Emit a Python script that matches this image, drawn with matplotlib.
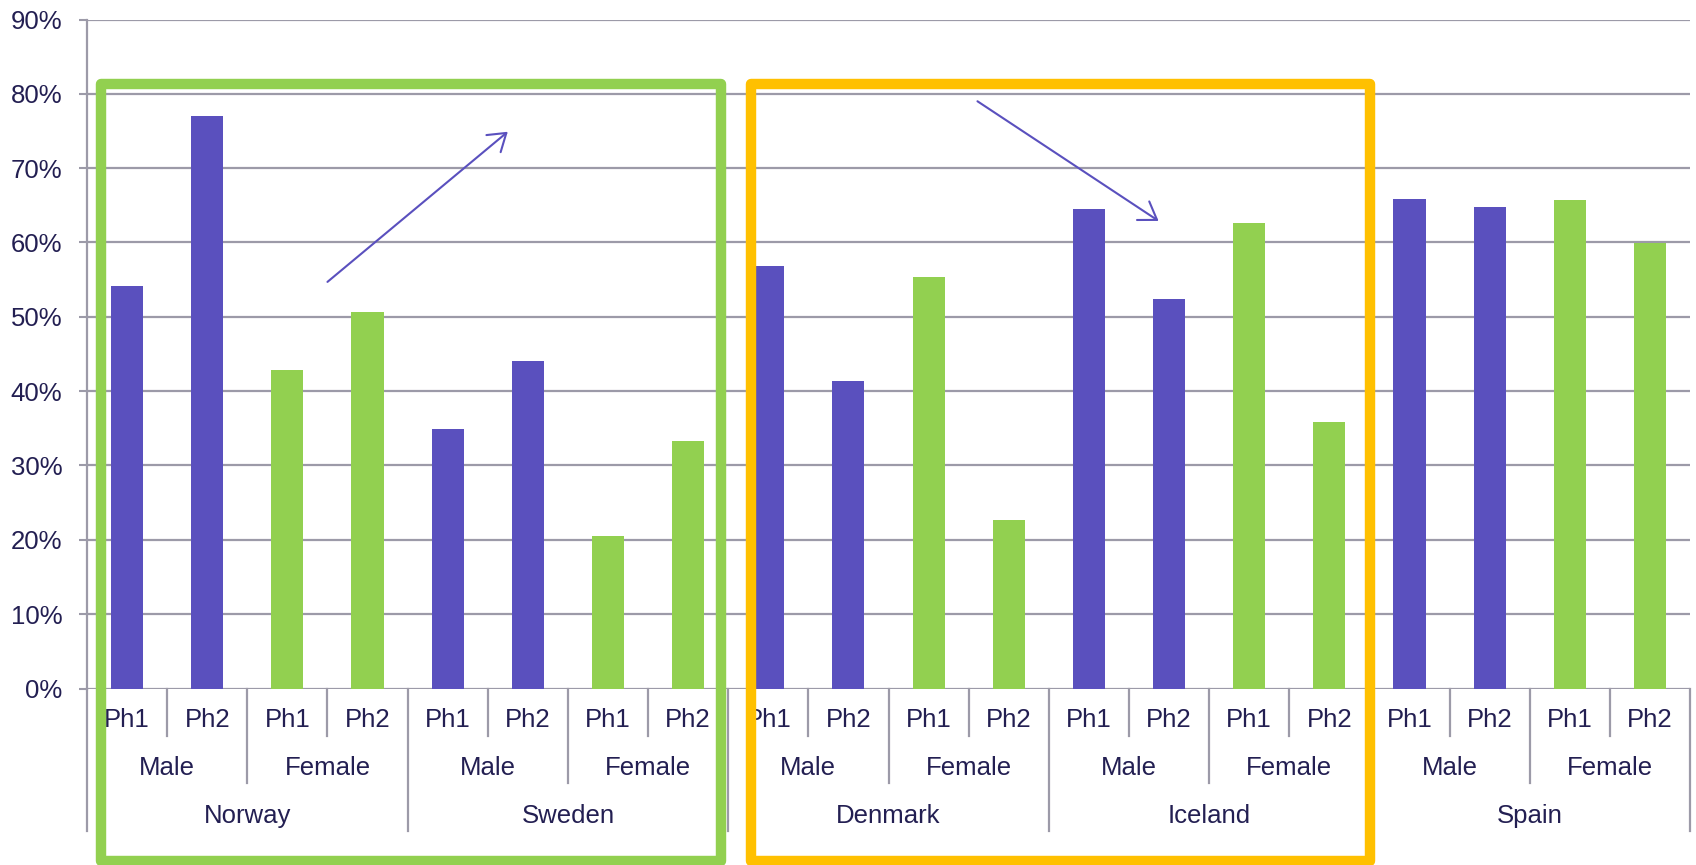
import matplotlib
matplotlib.use('Agg')
import matplotlib.pyplot as plt
import matplotlib.transforms as mtransforms
from matplotlib.patches import Rectangle
import numpy as np

plt.rcParams['font.family'] = ['Liberation Sans', 'DejaVu Sans']

countries = ['Norway', 'Sweden', 'Denmark', 'Iceland', 'Spain']
genders = ['Male', 'Female']
phases = ['Ph1', 'Ph2']

# share per country, gender and phase
male_ph1 = [0.541, 0.349, 0.568, 0.645, 0.659]
male_ph2 = [0.770, 0.441, 0.414, 0.524, 0.648]
female_ph1 = [0.428, 0.205, 0.553, 0.626, 0.657]
female_ph2 = [0.507, 0.333, 0.227, 0.358, 0.599]

BLUE = '#5A50BE'
GREEN = '#92D050'
ORANGE = '#FFC000'
GRID = '#9C9AA8'
TEXT = '#231F52'
FS = 18.5

values = []
colors = []
for c in range(len(countries)):
    values += [male_ph1[c], male_ph2[c], female_ph1[c], female_ph2[c]]
    colors += [BLUE, BLUE, GREEN, GREEN]
x = np.arange(len(values))

W, H = 1696, 865
fig = plt.figure(figsize=(W / 100, H / 100), dpi=100)
ax_l, ax_r, ax_t, ax_b = 87, 1690, 19.5, 688.5
ax = fig.add_axes([ax_l / W, 1 - ax_b / H, (ax_r - ax_l) / W, (ax_b - ax_t) / H])
ax_h = ax_b - ax_t

ax.bar(x, values, width=0.4, color=colors, zorder=3)

ax.set_xlim(-0.5, len(values) - 0.5)
ax.set_ylim(0, 0.9)
yt = np.arange(0, 0.91, 0.1)
ax.set_yticks(yt)
ax.set_yticklabels([f'{int(round(v * 100))}%' for v in yt], fontsize=FS, color=TEXT)
ax.tick_params(axis='y', length=8 * 0.72, width=1.5, color=GRID, pad=12)
ax.set_xticks([])
ax.yaxis.grid(True, color=GRID, lw=1.6, zorder=1)
ax.set_axisbelow(True)
for s in ['top', 'right', 'bottom']:
    ax.spines[s].set_visible(False)
ax.spines['left'].set_color(GRID)
ax.spines['left'].set_linewidth(1.6)

# multi-level category axis below the bars
tr = mtransforms.blended_transform_factory(ax.transData, ax.transAxes)


def depth(px):
    return -(px - ax_b) / ax_h


n = len(values)
for i in range(n + 1):
    xb = i - 0.5
    if i % 4 == 0:
        bottom = 831
    elif i % 2 == 0:
        bottom = 783
    else:
        bottom = 736
    ax.plot([xb, xb], [0, depth(bottom)], transform=tr, color=GRID, lw=1.6,
            clip_on=False, zorder=2)

for i in range(n):
    ax.text(i, depth(720), phases[i % 2], transform=tr, ha='center', va='center',
            fontsize=FS, color=TEXT)
for j in range(n // 2):
    ax.text(2 * j + 0.5, depth(768), genders[j % 2], transform=tr, ha='center',
            va='center', fontsize=FS, color=TEXT)
for k, name in enumerate(countries):
    ax.text(4 * k + 1.5, depth(816), name, transform=tr, ha='center', va='center',
            fontsize=FS, color=TEXT)

# highlight boxes around country pairs
ftr = mtransforms.blended_transform_factory(ax.transData, fig.transFigure)
box_top = 1 - 84 / H
box_bot = 1 - 861 / H
for x0, x1, col in [(-0.325, 7.41, GREEN), (7.79, 15.51, ORANGE)]:
    ax.add_patch(Rectangle((x0, box_bot), x1 - x0, box_top - box_bot, transform=ftr,
                           fill=False, edgecolor=col, lw=7.5, joinstyle='round',
                           clip_on=False, zorder=6))

# trend arrows
arrow = dict(arrowstyle='->,head_length=0.6,head_width=0.4', color=BLUE, lw=1.5,
             mutation_scale=20, shrinkA=0, shrinkB=0)
ax.annotate('', xy=(4.75, 0.749), xytext=(2.50, 0.547), arrowprops=arrow, zorder=5)
ax.annotate('', xy=(12.87, 0.629), xytext=(10.61, 0.790), arrowprops=arrow, zorder=5)

fig.savefig('out.png', dpi=100)
